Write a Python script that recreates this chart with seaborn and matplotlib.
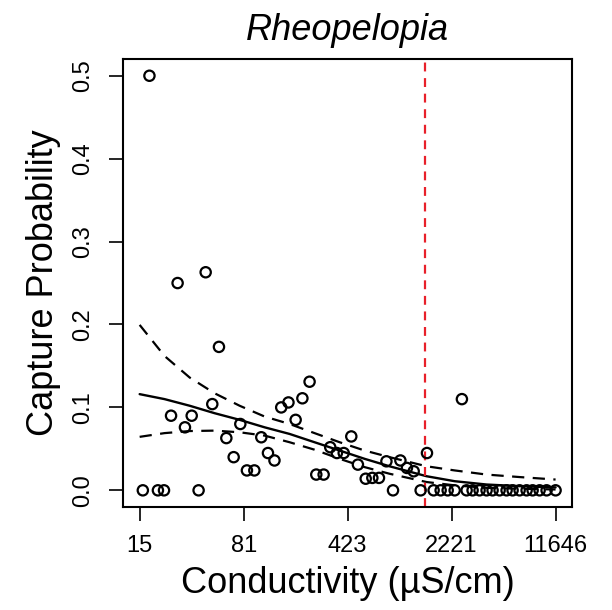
import numpy as np
import pandas as pd
import matplotlib
matplotlib.use("Agg")
import matplotlib.pyplot as plt
import seaborn as sns

# -------------------------------------------------------------------
# Data
# -------------------------------------------------------------------

cond_pos = [18.0, 28.2, 44.1, 54.5, 49.0, 25.4, 35.3, 31.7, 61.3, 76.6,
            68.9, 107, 85.1, 95.8, 119, 132, 147, 165, 231, 206,
            185, 257, 289, 321, 357, 398, 449, 499, 565, 628,
            698, 786, 982, 1090, 1214, 1500, 2617]
prob_pos = [0.500, 0.250, 0.263, 0.173, 0.104, 0.090, 0.090, 0.076, 0.063, 0.080,
            0.040, 0.064, 0.024, 0.024, 0.045, 0.036, 0.100, 0.106, 0.131, 0.111,
            0.085, 0.019, 0.019, 0.052, 0.045, 0.045, 0.065, 0.031, 0.014, 0.015,
            0.015, 0.035, 0.036, 0.027, 0.023, 0.045, 0.110]

cond_zero = [16.2, 20.6, 22.7, 39.4, 873, 1356, 1668, 1865, 2086, 2332,
             2821, 3103, 3468, 3878, 4267, 4772, 5334, 5871, 6564, 7339,
             8077, 9027, 10093, 11646]

curve_x = [15.4, 22.9, 34.2, 50.9, 75.8, 112.8, 168, 250, 373, 555,
           826, 1491, 2332, 3878, 6564, 11646]
fit = [0.116, 0.110, 0.102, 0.093, 0.085, 0.076, 0.068, 0.058, 0.048, 0.038,
       0.029, 0.017, 0.011, 0.007, 0.005, 0.0035]
upper = [0.1995, 0.162, 0.136, 0.117, 0.102, 0.089, 0.080, 0.069, 0.058, 0.048,
         0.040, 0.029, 0.024, 0.019, 0.016, 0.013]
lower = [0.0645, 0.069, 0.0715, 0.072, 0.070, 0.066, 0.058, 0.049, 0.038, 0.028,
         0.020, 0.010, 0.006, 0.003, 0.002, 0.001]

threshold = 1445

tick_vals = [15.4, 80.8, 423, 2221, 11646]
tick_labels = ["15", "81", "423", "2221", "11646"]

# -------------------------------------------------------------------
# Plot
# -------------------------------------------------------------------

sns.set_style("ticks")
plt.rcParams["font.family"] = ["Liberation Sans", "DejaVu Sans"]
plt.rcParams.update({"text.color": "black", "axes.labelcolor": "black",
                     "xtick.color": "black", "ytick.color": "black"})

points = pd.DataFrame({
    "cond": cond_pos + cond_zero,
    "prob": prob_pos + [0.0] * len(cond_zero),
})
curves = pd.DataFrame({"cond": curve_x, "fit": fit, "upper": upper, "lower": lower})

fig = plt.figure(figsize=(6.12, 6.10), dpi=100)
ax = fig.add_axes([0.201, 0.169, 0.734, 0.734])

sns.scatterplot(data=points, x="cond", y="prob", ax=ax, s=55,
                facecolor="none", edgecolor="black", linewidth=1.6, zorder=3)
sns.lineplot(data=curves, x="cond", y="fit", ax=ax, color="black", lw=1.7)
for col in ["upper", "lower"]:
    sns.lineplot(data=curves, x="cond", y=col, ax=ax, color="black", lw=1.6,
                 linestyle=(0, (5.5, 3.8)))
ax.axvline(threshold, color="#e8202a", lw=1.6, linestyle=(0, (4, 3)))

ax.set_xscale("log")
lo, hi = np.log(15.4), np.log(11646)
pad = 0.04 * (hi - lo)
ax.set_xlim(np.exp(lo - pad), np.exp(hi + pad))
ax.set_ylim(-0.02, 0.52)

ax.xaxis.set_minor_locator(matplotlib.ticker.NullLocator())
ax.set_xticks(tick_vals)
ax.set_xticklabels(tick_labels)
ax.set_yticks([0.0, 0.1, 0.2, 0.3, 0.4, 0.5])
ax.set_yticklabels(["0.0", "0.1", "0.2", "0.3", "0.4", "0.5"], rotation=90, va="center")

ax.tick_params(axis="both", labelsize=17, length=10, width=1.2, direction="out")
ax.tick_params(axis="x", pad=10.5)
ax.tick_params(axis="y", pad=11)
for sp in ax.spines.values():
    sp.set_linewidth(1.5)
    sp.set_color("black")

ax.set_xlabel("Conductivity (µS/cm)", fontsize=26, labelpad=6)
ax.set_ylabel("Capture Probability", fontsize=26, labelpad=8)
ax.set_title("Rheopelopia", fontsize=26, style="italic", pad=14)

plt.savefig("out.png", dpi=100)
plt.close()
